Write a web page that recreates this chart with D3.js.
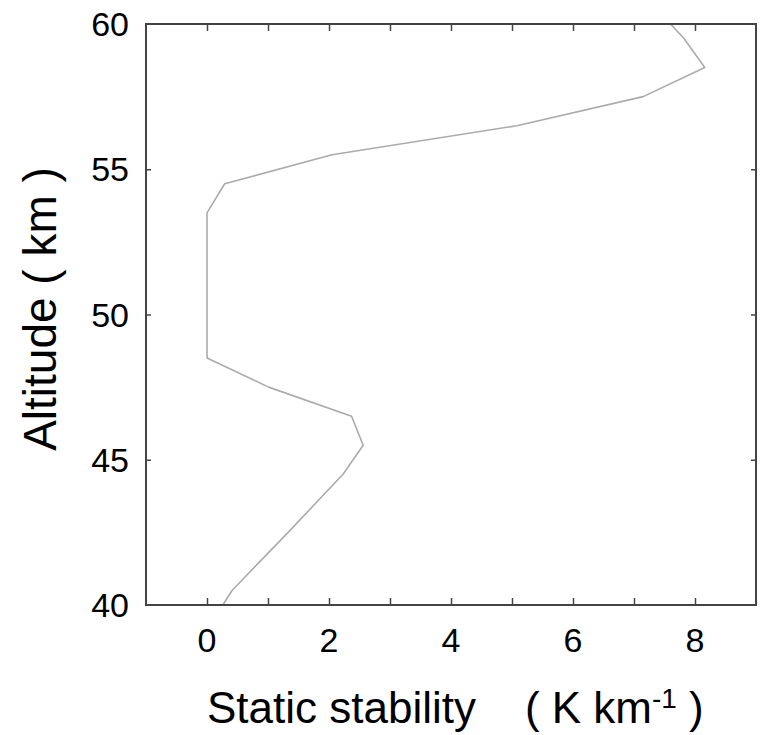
<!DOCTYPE html>
<html>
<head>
<meta charset="utf-8">
<script src="https://cdn.jsdelivr.net/npm/d3@7"></script>
<style>
  html, body { margin: 0; padding: 0; background: #fff; }
  svg { display: block; }
  text { font-family: "Liberation Sans", Arial, Helvetica, sans-serif; fill: #000; }
</style>
</head>
<body>
<svg id="chart" width="763" height="735"></svg>
<script>
// Data: static stability (K/km) vs altitude (km)
const altitude = [40, 40.5, 41.5, 42.5, 43.5, 44.5, 45.5, 46.5, 47.5, 48.5, 49.5, 50.5, 51.5, 52.5, 53.5, 54.5, 55.5, 56.5, 57.5, 58.5, 59.5, 60];
const stability = [0.26, 0.41, 0.87, 1.33, 1.78, 2.23, 2.56, 2.37, 1.01, 0.0, 0.0, 0.0, 0.0, 0.0, 0.0, 0.29, 2.05, 5.08, 7.15, 8.16, 7.82, 7.6];
const xTicks = [-1, 0, 1, 2, 3, 4, 5, 6, 7, 8, 9];
const xTickLabels = [0, 2, 4, 6, 8];
const yTicks = [40, 45, 50, 55, 60];

const svg = d3.select("#chart");
const m = { left: 146, right: 756, top: 24, bottom: 605 };

const x = d3.scaleLinear().domain([-1, 9]).range([m.left, m.right]);
const y = d3.scaleLinear().domain([40, 60]).range([m.bottom, m.top]);

const axisColor = "#444";

// line
const pts = altitude.map((a, i) => ({ a, s: stability[i] }));
svg.append("defs").append("clipPath").attr("id", "clip")
  .append("rect").attr("x", m.left).attr("y", m.top)
  .attr("width", m.right - m.left).attr("height", m.bottom - m.top);

svg.append("path")
  .datum(pts)
  .attr("clip-path", "url(#clip)")
  .attr("fill", "none")
  .attr("stroke", "#ababab")
  .attr("stroke-width", 1.6)
  .attr("stroke-linejoin", "round")
  .attr("d", d3.line().x(d => x(d.s)).y(d => y(d.a)));

// axes (ticks inward, on all four sides)
const xt = xTicks.filter(v => v > -1 && v < 9);
const yt = yTicks.filter(v => v > 40 && v < 60);

const bottomAxis = d3.axisBottom(x).tickValues(xt).tickSize(-7).tickFormat("");
const topAxis = d3.axisTop(x).tickValues(xt).tickSize(-7).tickFormat("");
const leftAxis = d3.axisLeft(y).tickValues(yt).tickSize(-5).tickFormat("");
const rightAxis = d3.axisRight(y).tickValues(yt).tickSize(-5).tickFormat("");

function styleAxis(g) {
  g.select(".domain").remove();
  g.selectAll(".tick line").attr("stroke", axisColor).attr("stroke-width", 1.5);
}
svg.append("g").attr("transform", `translate(0,${m.bottom})`).call(bottomAxis).call(styleAxis);
svg.append("g").attr("transform", `translate(0,${m.top})`).call(topAxis).call(styleAxis);
svg.append("g").attr("transform", `translate(${m.left},0)`).call(leftAxis).call(styleAxis);
svg.append("g").attr("transform", `translate(${m.right},0)`).call(rightAxis).call(styleAxis);

// frame
svg.append("rect")
  .attr("x", m.left).attr("y", m.top)
  .attr("width", m.right - m.left).attr("height", m.bottom - m.top)
  .attr("fill", "none").attr("stroke", axisColor).attr("stroke-width", 2);

// tick labels
svg.append("g").selectAll("text").data(xTickLabels).join("text")
  .attr("x", d => x(d)).attr("y", 652)
  .attr("text-anchor", "middle")
  .attr("font-size", 34)
  .text(d => d);

svg.append("g").selectAll("text").data(yTicks).join("text")
  .attr("x", 129).attr("y", d => y(d) + 12)
  .attr("text-anchor", "end")
  .attr("font-size", 34)
  .text(d => d);

// axis titles
svg.append("text")
  .attr("transform", `translate(56,309) rotate(-90)`)
  .attr("text-anchor", "middle")
  .attr("font-size", 46)
  .style("white-space", "pre")
  .text("Altitude ( km )");

const xt2 = svg.append("text")
  .attr("x", 207).attr("y", 723)
  .attr("font-size", 44)
  .style("white-space", "pre");
xt2.append("tspan").text("Static stability    ( K km");
xt2.append("tspan").attr("dy", -15).attr("font-size", 28).text("-1");
xt2.append("tspan").attr("dy", 15).text(" )");
</script>
</body>
</html>
